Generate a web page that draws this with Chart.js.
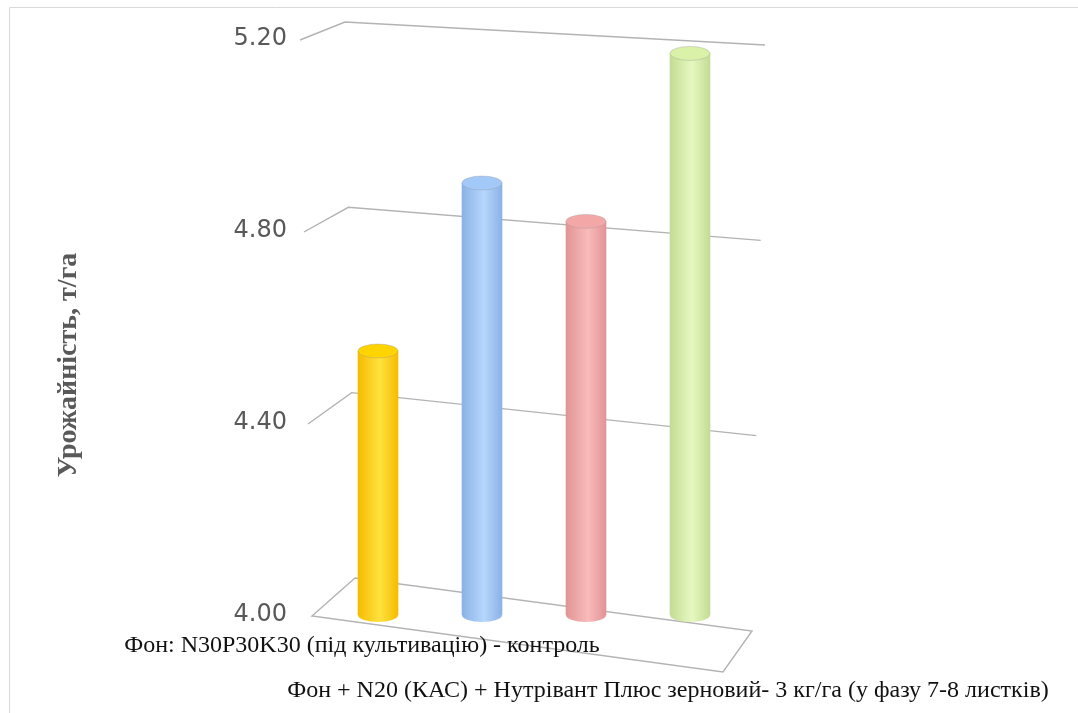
<!DOCTYPE html>
<html>
<head>
<meta charset="utf-8">
<script src="https://cdn.jsdelivr.net/npm/chart.js@4.4.0/dist/chart.umd.min.js"></script>
<style>
  html, body { margin: 0; padding: 0; background: #fff; }
  #wrap { width: 1078px; height: 713px; }
</style>
</head>
<body>
<div id="wrap"><canvas id="yieldChart" width="1078" height="713"></canvas></div>
<script>
// categories: only the 1st and 4th names are readable in the picture
var categories = [
  "Фон: N30P30K30 (під культивацію) - контроль",
  "",
  "",
  "Фон + N20 (КАС) + Нутрівант Плюс зерновий- 3 кг/га (у фазу 7-8 листків)"
];
var yieldValues = [4.55, 4.90, 4.82, 5.17];
var yTicks = [4.0, 4.4, 4.8, 5.2];
var yTitle = "Урожайність, т/га";

var barColors = ["#FFD400", "#A3C9F9", "#F4A7A7", "#DAF1A8"];
var barLight = ["#FFE23F", "#B6D7FD", "#F9BBBB", "#E6F8C0"];
var barDark = ["#F5BC00", "#8AB2E6", "#E29494", "#C3DC94"];

var BAR_W = 40;

function cylGradient(ctx, cx, i) {
  var g = ctx.createLinearGradient(cx - BAR_W / 2, 0, cx + BAR_W / 2, 0);
  g.addColorStop(0, barDark[i]);
  g.addColorStop(0.55, barLight[i]);
  g.addColorStop(1, barDark[i]);
  return g;
}

// slanted "3d" walls and floor, positioned from the y scale
var wallsPlugin = {
  id: "walls",
  beforeDatasetsDraw: function (chart) {
    var ctx = chart.ctx, ys = chart.scales.y, a = chart.chartArea;
    ctx.save();
    ctx.strokeStyle = "#b3b3b3";
    ctx.lineWidth = 1.4;
    yTicks.forEach(function (v) {
      var t = (v - ys.min) / (ys.max - ys.min), k = 1 - t;
      var y = ys.getPixelForValue(v);
      var p0 = [a.left - 26 + 12 * k, y + 1];
      var p1 = [a.left + 19 + 10 * k, y - 17 - 20 * k];
      var p2 = [a.right + 23 - 13 * k, p1[1] + 23 + 30 * k];
      ctx.beginPath();
      ctx.moveTo(p0[0], p0[1]);
      ctx.lineTo(p1[0], p1[1]);
      ctx.lineTo(p2[0], p2[1]);
      if (t === 0) {
        ctx.lineTo(p2[0] - 29, p2[1] + 41);
        ctx.closePath();
      }
      ctx.stroke();
    });
    ctx.restore();
  },
  afterDraw: function (chart) {
    var ctx = chart.ctx, xs = chart.scales.x, a = chart.chartArea;
    var bars = chart.getDatasetMeta(0).data;
    ctx.save();
    // cylinder ends on the bars drawn by chart.js
    bars.forEach(function (bar, i) {
      var p = bar.getProps(["x", "y", "base"], true);
      var rx = BAR_W / 2, ry = 7;
      ctx.beginPath();
      ctx.ellipse(p.x, p.base, rx, ry, 0, 0, Math.PI);
      ctx.fillStyle = cylGradient(ctx, p.x, i);
      ctx.fill();
      ctx.beginPath();
      ctx.ellipse(p.x, p.y, rx, ry, 0, 0, Math.PI * 2);
      ctx.fillStyle = barColors[i];
      ctx.fill();
      ctx.strokeStyle = "rgba(150,150,150,0.45)";
      ctx.lineWidth = 0.8;
      ctx.stroke();
    });
    // outer frame
    ctx.strokeStyle = "#d9d9d9";
    ctx.lineWidth = 1;
    ctx.beginPath();
    ctx.moveTo(9.5, 713);
    ctx.lineTo(9.5, 7.5);
    ctx.lineTo(1078, 7.5);
    ctx.stroke();
    // category labels
    ctx.fillStyle = "#111";
    ctx.font = '24px "Liberation Serif"';
    ctx.textAlign = "center";
    ctx.textBaseline = "middle";
    categories.forEach(function (c, i) {
      if (!c) return;
      var row = i === 0 ? 0 : 1;
      var shift = row === 0 ? -16 : -22;
      ctx.fillText(c, xs.getPixelForValue(i) + shift, a.bottom + 31 + row * 45);
    });
    // axis title
    ctx.translate(69, 365);
    ctx.rotate(-Math.PI / 2);
    ctx.fillStyle = "#595959";
    ctx.font = 'bold 28px "Liberation Serif"';
    ctx.fillText(yTitle, 0, 0);
    ctx.restore();
  }
};

var ctx = document.getElementById("yieldChart").getContext("2d");
var yieldChart = new Chart(ctx, {
  type: "bar",
  data: {
    labels: categories,
    datasets: [
      {
        label: yTitle,
        data: yieldValues,
        base: yTicks[0],
        barThickness: BAR_W,
        borderWidth: 0,
        backgroundColor: function (c) {
          var xs = c.chart.scales.x;
          var cx = xs ? xs.getPixelForValue(c.dataIndex) : NaN;
          if (c.type !== "data" || !isFinite(cx)) return barColors[c.dataIndex];
          return cylGradient(c.chart.ctx, cx, c.dataIndex);
        }
      }
    ]
  },
  options: {
    responsive: false,
    animation: false,
    layout: { padding: { left: 0, top: 39, right: 336, bottom: 98 } },
    plugins: {
      legend: { display: false },
      tooltip: { enabled: false }
    },
    scales: {
      x: { display: false },
      y: {
        min: 4,
        max: 5.2,
        grid: { display: false },
        border: { display: false },
        afterBuildTicks: function (s) {
          s.ticks = yTicks.map(function (v) { return { value: v }; });
        },
        afterFit: function (s) {
          s.width = 326;
          s.paddingTop = 0;
          s.paddingBottom = 0;
        },
        ticks: {
          padding: 31,
          color: "#595959",
          font: { family: "DejaVu Sans", size: 24 },
          callback: function (v) { return Number(v).toFixed(2); }
        }
      }
    }
  },
  plugins: [wallsPlugin]
});
</script>
</body>
</html>
